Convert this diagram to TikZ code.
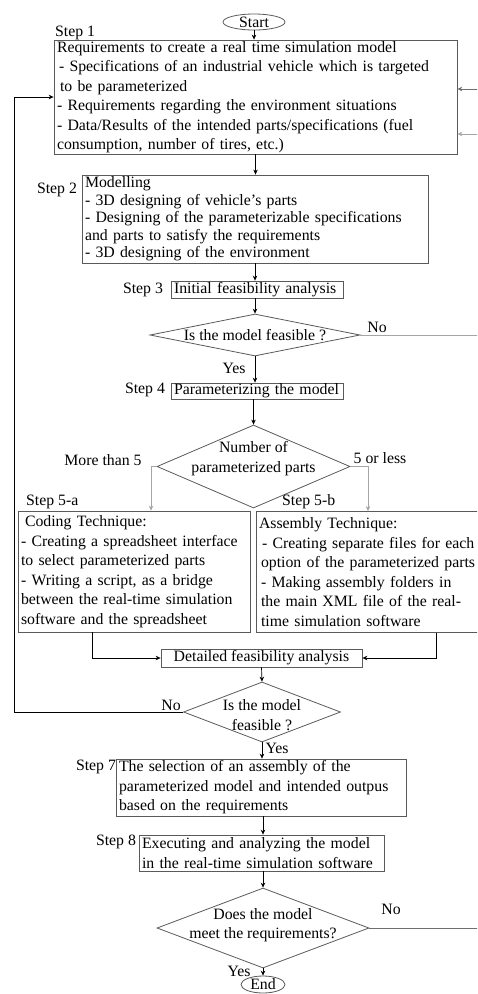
\documentclass[tikz,border=0pt]{standalone}
\usepackage{fontspec}
\setmainfont{Liberation Serif}
\usepackage{tikz}
\usetikzlibrary{arrows.meta,positioning,calc,shapes.geometric}
\definecolor{edgc}{RGB}{90,90,90}
\definecolor{litc}{RGB}{165,165,165}
\definecolor{midc}{RGB}{110,110,110}
\tikzset{
  box/.style ={draw=edgc,line width=0.8pt,inner xsep=3pt,inner ysep=0pt,align=left},
  dec/.style ={diamond,draw=edgc,line width=0.8pt,inner sep=0pt},
  term/.style={ellipse,draw=edgc,line width=0.8pt,inner sep=0pt},
  stp/.style ={inner sep=0pt},
  ar/.style  ={-{Stealth[length=5pt,width=4.5pt]},line width=0.7pt},
  lit/.style ={draw=litc},
  mid/.style ={draw=midc},
}

\begin{document}
\begin{tikzpicture}[x=1pt,y=-1pt,font=\fontsize{15.8}{19.5}\selectfont]
  \useasboundingbox (0,0) rectangle (477,994);
  \clip (0,0) rectangle (477,994);

  \node[term,minimum width=62pt,minimum height=16pt,label=center:Start] (start) at (254,22){};
  \node[box,minimum width=403pt,minimum height=114pt,text width=397pt] (s1) at (255.5,97){%
    Requirements to create a real time simulation model\\
    \hspace*{2pt}- Specifications of an industrial vehicle which is targeted\\
    \hspace*{3pt}to be parameterized\\
    - Requirements regarding the environment situations\\
    - Data/Results of the intended parts/specifications (fuel\\
    consumption, number of tires, etc.)};
  \node[box,minimum width=346pt,minimum height=88pt,text width=340pt,
        font=\fontsize{15.8}{17.6}\selectfont] (s2) at (255,219){%
    Modelling\\
    - 3D designing of vehicle's parts\\
    - Designing of the parameterizable specifications\\
    and parts to satisfy the requirements\\
    - 3D designing of the environment};
  \node[box,minimum width=172pt,minimum height=17pt,text width=166pt] (s3) at (257,289.5){Initial feasibility analysis};
  \node[dec,minimum width=210pt,minimum height=42pt,label=center:Is the model feasible ?] (d1) at (255,335){};
  \node[box,minimum width=172pt,minimum height=16pt,text width=166pt] (s4) at (257,391){Parameterizing the model};
  \node[dec,minimum width=193pt,minimum height=83pt,
        label={[align=center,yshift=8pt]center:Number of\\parameterized parts}] (d2) at (253.5,466.5){};
  \node[box,minimum width=232pt,minimum height=121pt,text width=226pt] (s5a) at (134,571.5){%
    \hspace*{4pt}Coding Technique:\\
    - Creating a spreadsheet interface\\
    to select parameterized parts\\
    - Writing a script, as a bridge\\
    between the real-time simulation\\
    software and the spreadsheet};
  \node[box,minimum width=234pt,minimum height=121pt,text width=228pt] (s5b) at (373,572){%
    Assembly Technique:\\
    \hspace*{3pt}- Creating separate files for each\\
    \hspace*{2pt}option of the parameterized parts\\
    \hspace*{2pt}- Making assembly folders in\\
    \hspace*{2pt}the main XML file of the real-\\
    \hspace*{2pt}time simulation software};
  \node[box,minimum width=201pt,minimum height=18pt] (det) at (261.5,658){Detailed feasibility analysis};
  \node[dec,minimum width=157pt,minimum height=60pt,
        label={[align=center,yshift=-3pt]center:Is the model\\feasible ?}] (d3) at (262,712){};
  \node[box,minimum width=290pt,minimum height=57pt,text width=284pt] (s7) at (261,787.5){%
    The selection of an assembly of the\\
    parameterized model and intended outpus\\
    based on the requirements};
  \node[box,minimum width=245pt,minimum height=36pt,text width=239pt] (s8) at (261.5,853){%
    Executing and analyzing the model\\
    in the real-time simulation software};
  \node[dec,minimum width=212pt,minimum height=80pt,
        label={[align=center,yshift=3pt]center:Does the model\\meet the requirements?}] (d4) at (263,928){};
  \node[term,minimum width=44pt,minimum height=17pt,label=center:End] (end) at (263,984.5){};

  \node[stp,anchor=west] (l1) at (55,33){Step 1};
  \node[stp] (l2) at (57,190){Step 2};
  \node[stp] (l3) at (143,290){Step 3};
  \node[stp] (l4) at (145,390){Step 4};
  \node[stp,anchor=west] (l5a) at (26,502){Step 5-a};
  \node[stp,anchor=west] (l5b) at (282,502){Step 5-b};
  \node[stp] (l7) at (96,767){Step 7};
  \node[stp] (l8) at (116,842){Step 8};

  \node[stp] (no1) at (377,327){No};
  \node[stp] (yes1) at (234,368){Yes};
  \node[stp] (more) at (103,460){More than 5};
  \node[stp] (less) at (380,458){5 or less};
  \node[stp] (no2) at (171,705){No};
  \node[stp] (yes2) at (277,748){Yes};
  \node[stp] (no3) at (391,909){No};
  \node[stp] (yes3) at (239,971){Yes};

  \draw[ar] (start.south) -- (start.south |- s1.north);
  \draw[ar] (s1.south) -- (s1.south |- s2.north);
  \draw[ar] (s2.south) -- (s2.south |- s3.north);
  \draw[ar] (s2.south |- s3.south) -- (d1.north);
  \draw[ar] (d1.south) -- (d1.south |- s4.north);
  \draw[ar] (d2.north |- s4.south) -- (d2.north);
  \draw[ar,lit] (d2.west) -| ([xshift=17pt]s5a.north);
  \draw[ar,lit] (d2.east) -| ([xshift=-5pt]s5b.north);
  \draw[ar] ([xshift=-42pt]s5a.south) |- (det.west);
  \draw[ar] ([xshift=63pt]s5b.south) |- (det.east);
  \draw[ar] (det.south) -- (d3.north);
  \draw[ar] (d3.west) -- ++(-169,0) |- (s1.west);
  \draw[ar] (d3.south) -- (d3.south |- s7.north);
  \draw[ar] (d4.north |- s7.south) -- (d4.north |- s8.north);
  \draw[ar] (d4.north |- s8.south) -- (d4.north);
  \draw[ar] (d4.south) -- (end.north);
  \draw[ar,lit] (d1.east) -- ++(150,0) |- ([yshift=-37pt]s1.east);
  \draw[ar,mid] (d4.east) -- ++(160,0) |- ([yshift=8pt]s1.east);
\end{tikzpicture}
\end{document}
